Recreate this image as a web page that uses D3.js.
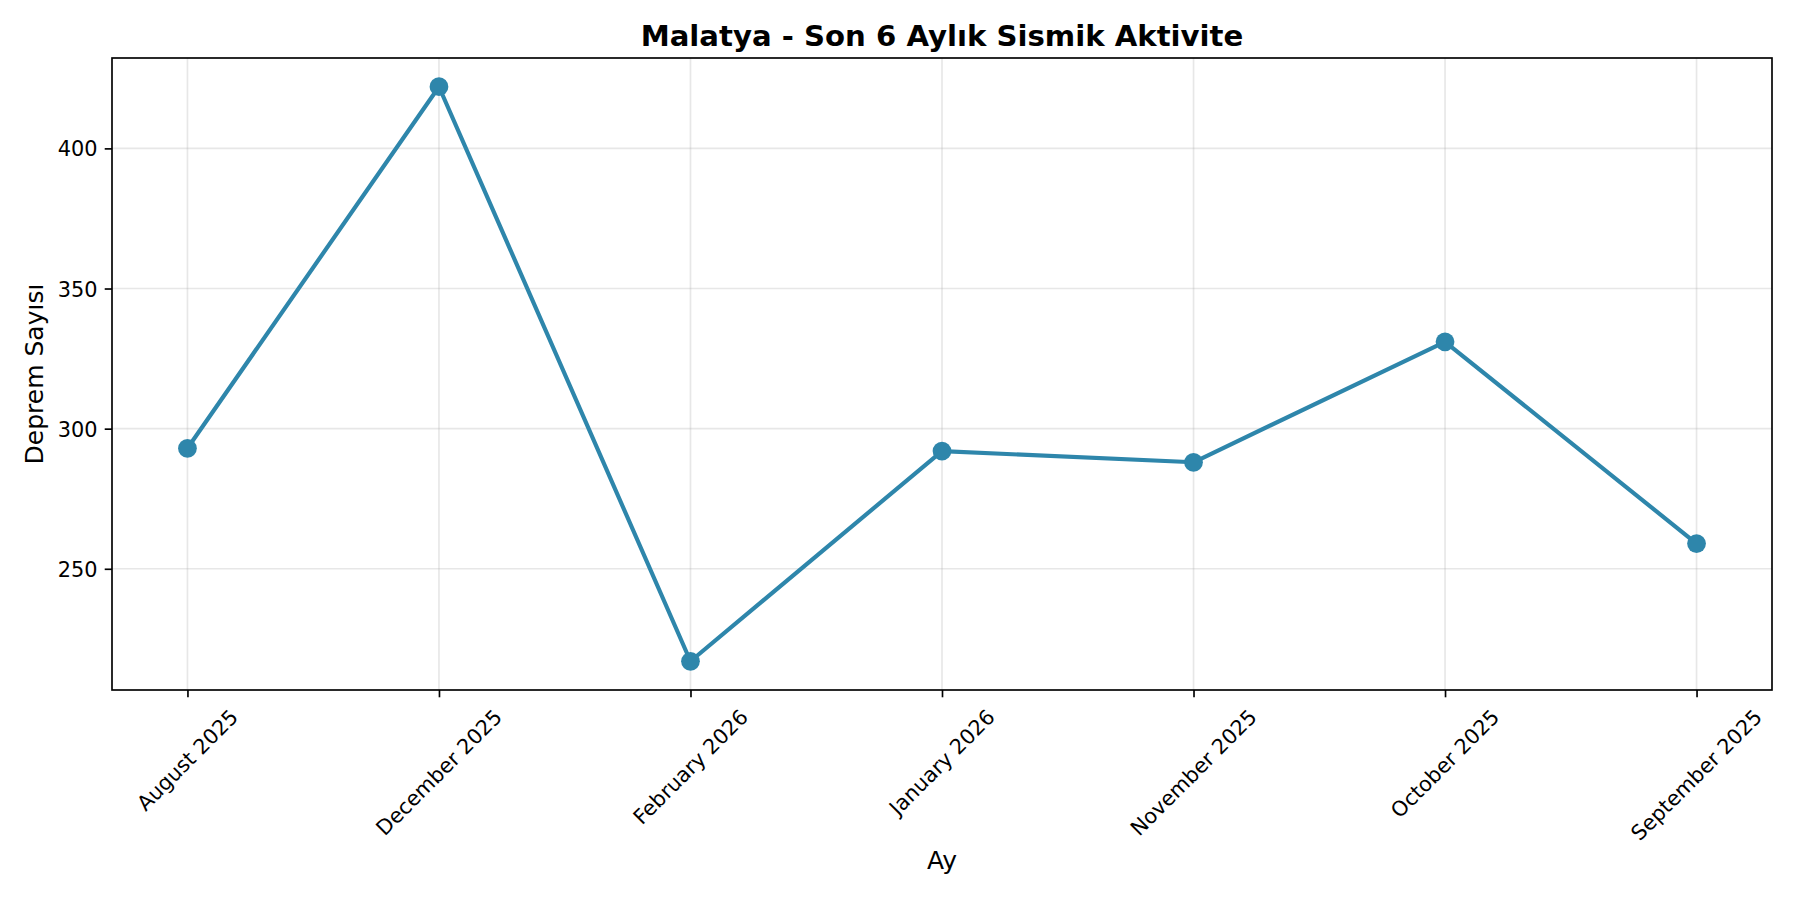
<!DOCTYPE html>
<html lang="tr">
<head>
<meta charset="UTF-8">
<title>Malatya - Son 6 Aylık Sismik Aktivite</title>
<script src="https://cdn.jsdelivr.net/npm/d3@7/dist/d3.min.js"></script>
<style>
  body { margin: 0; background: #fff; }
  svg { display: block; font-family: "DejaVu Sans", sans-serif; }
</style>
</head>
<body>
<div id="chart"></div>
<script>
// data (categories kept in their alphabetical order)
const months = ["August 2025", "December 2025", "February 2026", "January 2026",
                "November 2025", "October 2025", "September 2025"];
const counts = [293, 422, 217, 292, 288, 331, 259];
const yTicks = [250, 300, 350, 400];

const titleText = "Malatya - Son 6 Aylık Sismik Aktivite";
const xLabel = "Ay";
const yLabel = "Deprem Sayısı";

const W = 1800, H = 900;
const margin = { top: 58, right: 28, bottom: 210, left: 112 };
const innerW = W - margin.left - margin.right;
const innerH = H - margin.top - margin.bottom;

const pt = 150 / 72;          // matplotlib points -> px at 150 dpi
const lineColor = "#2E86AB";
const tickFont = 10 * pt, labelFont = 12 * pt, titleFont = 14 * pt;
const tickLen = 3.5 * pt, tickPad = 3.5 * pt;

const svg = d3.select("#chart").append("svg")
    .attr("width", W).attr("height", H);
svg.append("rect").attr("width", W).attr("height", H).attr("fill", "#fff");

const g = svg.append("g").attr("transform", `translate(${margin.left},${margin.top})`);

const x = d3.scalePoint().domain(months).range([0, innerW]).padding(0.3);

const [lo, hi] = d3.extent(counts);
const pad = (hi - lo) * 0.05;
const y = d3.scaleLinear().domain([lo - pad, hi + pad]).range([innerH, 0]);

// grid
g.append("g").selectAll("line").data(yTicks).join("line")
    .attr("x1", 0).attr("x2", innerW)
    .attr("y1", d => y(d)).attr("y2", d => y(d))
    .attr("stroke", "#b0b0b0").attr("stroke-opacity", 0.3).attr("stroke-width", 0.8 * pt);
g.append("g").selectAll("line").data(months).join("line")
    .attr("y1", 0).attr("y2", innerH)
    .attr("x1", d => x(d)).attr("x2", d => x(d))
    .attr("stroke", "#b0b0b0").attr("stroke-opacity", 0.3).attr("stroke-width", 0.8 * pt);

// line + markers
const pts = months.map((m, i) => ({ m, v: counts[i] }));
g.append("path").datum(pts)
    .attr("fill", "none")
    .attr("stroke", lineColor)
    .attr("stroke-width", 2 * pt)
    .attr("stroke-linejoin", "round")
    .attr("d", d3.line().x(d => x(d.m)).y(d => y(d.v)));
g.append("g").selectAll("circle").data(pts).join("circle")
    .attr("cx", d => x(d.m)).attr("cy", d => y(d.v))
    .attr("r", 4.5 * pt)
    .attr("fill", lineColor);

// frame
g.append("rect").attr("width", innerW).attr("height", innerH)
    .attr("fill", "none").attr("stroke", "#000").attr("stroke-width", 0.8 * pt);

// y axis
const yAxis = g.append("g")
    .call(d3.axisLeft(y).tickValues(yTicks).tickSize(tickLen).tickPadding(tickPad));
yAxis.select(".domain").remove();
yAxis.selectAll(".tick line").attr("stroke", "#000").attr("stroke-width", 0.8 * pt);
yAxis.selectAll(".tick text")
    .attr("font-size", tickFont).attr("fill", "#000")
    .attr("font-family", "DejaVu Sans").attr("dy", "0.36em");

// x axis, labels rotated 45deg and centred under each tick like matplotlib
const xAxis = g.append("g").attr("transform", `translate(0,${innerH})`)
    .call(d3.axisBottom(x).tickSize(tickLen).tickFormat(""));
xAxis.select(".domain").remove();
xAxis.selectAll(".tick line").attr("stroke", "#000").attr("stroke-width", 0.8 * pt);

const s45 = Math.SQRT1_2;
const lblTop = innerH + tickLen + tickPad;
const textH = 1.164 * tickFont;
let lblBottom = 0;
months.forEach(m => {
  const t = g.append("text")
      .attr("font-size", tickFont).attr("fill", "#000")
      .attr("text-anchor", "middle").attr("dy", "0.346em")
      .text(m);
  const w = t.node().getComputedTextLength();
  const half = (w + textH) * s45 / 2;
  const cy = lblTop + half;
  lblBottom = Math.max(lblBottom, cy + half);
  t.attr("transform", `translate(${x(m)},${cy}) rotate(-45)`);
});

// axis labels
g.append("text")
    .attr("x", innerW / 2)
    .attr("y", lblBottom + 4 * pt + 0.6 * labelFont)
    .attr("text-anchor", "middle")
    .attr("font-size", labelFont).attr("fill", "#000")
    .text(xLabel);

g.append("text")
    .attr("transform", `translate(${43 - margin.left},${innerH / 2}) rotate(-90)`)
    .attr("text-anchor", "middle")
    .attr("font-size", labelFont).attr("fill", "#000")
    .text(yLabel);

// title
svg.append("text")
    .attr("x", margin.left + innerW / 2)
    .attr("y", margin.top - 6 * pt)
    .attr("text-anchor", "middle")
    .attr("font-size", titleFont).attr("font-weight", "bold").attr("fill", "#000")
    .text(titleText);
</script>
</body>
</html>
